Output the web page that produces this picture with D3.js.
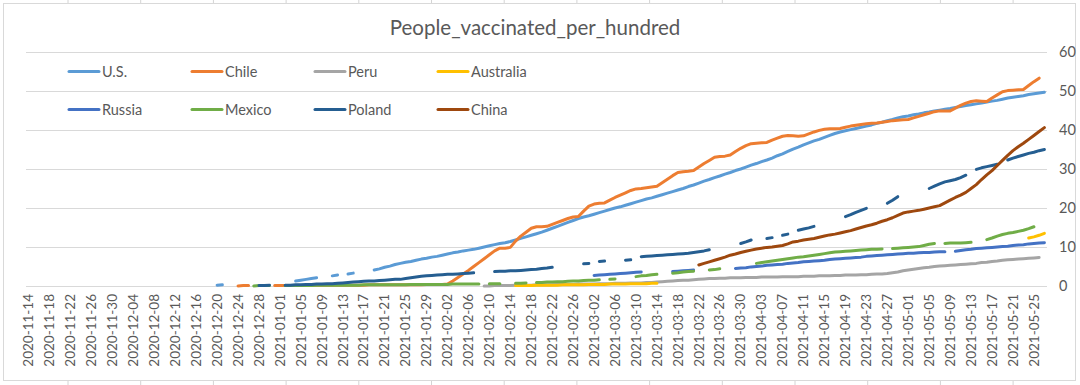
<!DOCTYPE html>
<html>
<head>
<meta charset="utf-8">
<script src="https://cdn.jsdelivr.net/npm/d3@7"></script>
<style>
  body { margin: 0; background: #fff; }
  text { font-family: Lato, "Open Sans", sans-serif; fill: #595959; }
</style>
</head>
<body>
<svg id="chart" width="1080" height="385"></svg>
<script>
// category axis: one category per day, a label every 4th day
const firstDay = "2020-11-14";
const lastDay = "2021-05-27";
const labelEvery = 4;
const yTicks = [0, 10, 20, 30, 40, 50, 60];

const seriesNames = ["U.S.", "Chile", "Peru", "Australia", "Russia", "Mexico", "Poland", "China"];
const seriesColors = ["#5B9BD5", "#ED7D31", "#A5A5A5", "#FFC000", "#4472C4", "#70AD47", "#255E91", "#9E480E"];

// each series is a list of runs: [first date of run, daily values]; a break between runs = missing days
const usRuns = [
  ["2020-12-20", [0.2, 0.3]],
  ["2021-01-04", [1.3, 1.5, 1.7, 1.9, 2.1]],
  ["2021-01-11", [2.6, 2.8]],
  ["2021-01-14", [3.1, 3.3]],
  ["2021-01-19", [4.1, 4.4, 4.8, 5.1, 5.5, 5.8, 6.1, 6.3, 6.6, 6.9,
                  7.1, 7.4, 7.6, 7.9, 8.2, 8.5, 8.7, 9.0, 9.2, 9.4,
                  9.7, 10.0, 10.3, 10.6, 10.9, 11.1, 11.4, 11.8, 12.2, 12.6,
                  13.0, 13.4, 13.8, 14.3, 14.8, 15.3, 15.8, 16.3, 16.8, 17.3,
                  17.7, 18.0, 18.4, 18.8, 19.2, 19.6, 20.0, 20.3, 20.7, 21.1,
                  21.5, 21.9, 22.3, 22.6, 23.0, 23.4, 23.8, 24.2, 24.6, 25.0,
                  25.5, 25.9, 26.4, 26.9, 27.3, 27.8, 28.2, 28.7, 29.1, 29.6,
                  30.0, 30.5, 31.0, 31.4, 31.9, 32.3, 32.8, 33.4, 33.9, 34.5,
                  35.1, 35.6, 36.2, 36.7, 37.2, 37.6, 38.1, 38.6, 39.1, 39.5,
                  39.8, 40.1, 40.4, 40.7, 41.0, 41.3, 41.7, 42.0, 42.4, 42.7,
                  43.1, 43.4, 43.6, 43.9, 44.1, 44.4, 44.6, 44.9, 45.1, 45.3,
                  45.5, 45.8, 46.0, 46.3, 46.5, 46.7, 46.9, 47.2, 47.4, 47.6,
                  47.9, 48.2, 48.4, 48.6, 48.8, 49.1, 49.3, 49.5, 49.7]]
];

const chileRuns = [
  ["2020-12-24", [0.0, 0.1, 0.1]],
  ["2020-12-31", [0.1, 0.1, 0.1, 0.1, 0.1, 0.1, 0.1, 0.2, 0.2, 0.2,
                  0.2, 0.2, 0.2, 0.2, 0.2, 0.2, 0.2, 0.2, 0.3, 0.3,
                  0.3, 0.3, 0.3, 0.3, 0.3, 0.3, 0.3, 0.3, 0.3, 0.4,
                  0.4, 0.4, 0.4, 0.5, 1.3, 2.2, 3.1, 4.0, 5.0, 6.0,
                  7.0, 8.0, 9.0, 9.7, 9.7, 9.9, 11.5, 12.8, 13.8, 14.8,
                  15.2, 15.2, 15.3, 15.8, 16.3, 16.8, 17.3, 17.7, 17.8, 19.2,
                  20.5, 21.0, 21.2, 21.3, 22.0, 22.7, 23.3, 23.9, 24.5, 24.9,
                  25.0, 25.2, 25.4, 25.6, 26.5, 27.4, 28.3, 29.1, 29.3, 29.4,
                  29.6, 30.5, 31.4, 32.2, 33.0, 33.2, 33.3, 33.6, 34.5, 35.3,
                  36.0, 36.5, 36.6, 36.7, 36.8, 37.4, 37.9, 38.4, 38.6, 38.5,
                  38.4, 38.5, 39.0, 39.5, 39.9, 40.2, 40.3, 40.3, 40.4, 40.7,
                  41.0, 41.2, 41.4, 41.6, 41.7, 41.8, 42.0, 42.2, 42.4, 42.5,
                  42.6, 42.7, 43.1, 43.5, 43.9, 44.3, 44.7, 44.9, 44.9, 44.9,
                  45.6, 46.3, 46.9, 47.3, 47.5, 47.4, 47.3, 48.2, 49.0, 49.8,
                  50.1, 50.2, 50.3, 50.4, 51.4, 52.4, 53.3]]
];

const peruRuns = [
  ["2021-02-09", [0.0, 0.0, 0.1, 0.1, 0.1, 0.1, 0.2, 0.2, 0.2, 0.2,
                  0.3, 0.3, 0.3, 0.3, 0.4, 0.4, 0.4, 0.4, 0.5, 0.5,
                  0.5, 0.5, 0.6, 0.6, 0.6, 0.7, 0.7, 0.7, 0.8, 0.8,
                  0.8, 0.9, 0.9, 1.0, 1.1, 1.2, 1.3, 1.4, 1.5, 1.5,
                  1.6, 1.7, 1.8, 1.9, 1.9, 2.0, 2.0, 2.1, 2.1, 2.1,
                  2.2, 2.2, 2.2, 2.3, 2.3, 2.3, 2.3, 2.4, 2.4, 2.4,
                  2.4, 2.5, 2.5, 2.5, 2.6, 2.6, 2.6, 2.7, 2.7, 2.8,
                  2.8, 2.8, 2.9, 2.9, 3.0, 3.1, 3.1, 3.2, 3.4, 3.6,
                  3.9, 4.1, 4.3, 4.5, 4.7, 4.8, 5.0, 5.1, 5.2, 5.3,
                  5.4, 5.5, 5.6, 5.7, 5.8, 6.0, 6.1, 6.3, 6.4, 6.6,
                  6.7, 6.8, 6.9, 7.0, 7.1, 7.2, 7.3]]
];

const australiaRuns = [
  ["2021-02-15", [0.1, 0.1, 0.1, 0.1, 0.2, 0.2, 0.2, 0.2, 0.2, 0.3,
                  0.3, 0.3, 0.3, 0.3, 0.4, 0.4, 0.4, 0.4, 0.5, 0.5,
                  0.5, 0.5, 0.6, 0.6, 0.6, 0.6, 0.7, 0.7]],
  ["2021-05-24", [12.3, 12.6, 13.0, 13.5]]
];

const russiaRuns = [
  ["2021-03-02", [2.7, 2.8, 2.9, 3.0, 3.1, 3.2, 3.3, 3.4, 3.5, 3.6]],
  ["2021-03-17", [3.7, 3.8, 3.9, 4.0, 4.1]],
  ["2021-03-29", [4.5, 4.6, 4.7, 4.9, 5.0, 5.1, 5.3, 5.4, 5.5, 5.6,
                  5.8, 5.9, 6.0, 6.2, 6.3, 6.4, 6.5, 6.6, 6.8, 6.9,
                  7.0, 7.1, 7.2, 7.3, 7.4, 7.6, 7.7, 7.8, 7.9, 8.0,
                  8.1, 8.2, 8.3, 8.4, 8.4, 8.5, 8.6, 8.6, 8.7, 8.8, 8.8]],
  ["2021-05-10", [8.9, 9.1, 9.3, 9.4, 9.6, 9.7, 9.8, 9.9, 10.0, 10.1,
                  10.2, 10.4, 10.5, 10.6, 10.8, 10.9, 11.0, 11.1]]
];

const mexicoRuns = [
  ["2020-12-27", [0.0, 0.1, 0.1, 0.1]],
  ["2021-01-02", [0.1, 0.1, 0.1, 0.1, 0.1, 0.1, 0.2, 0.2, 0.2, 0.2,
                  0.2, 0.2, 0.2, 0.2, 0.2, 0.3, 0.3, 0.3, 0.3, 0.3,
                  0.3, 0.3, 0.3, 0.3, 0.4, 0.4, 0.4, 0.4, 0.4, 0.4,
                  0.4, 0.4, 0.5, 0.5, 0.5, 0.5, 0.5, 0.5]],
  ["2021-02-10", [0.6, 0.6, 0.6]],
  ["2021-02-15", [0.7, 0.7, 0.8]],
  ["2021-02-19", [0.9, 0.9, 1.0, 1.0, 1.1, 1.1, 1.2, 1.3, 1.3, 1.4, 1.5, 1.5, 1.6]],
  ["2021-03-05", [1.7, 1.8]],
  ["2021-03-10", [2.4, 2.6, 2.7, 2.9, 3.0]],
  ["2021-03-17", [3.3, 3.4, 3.6, 3.7, 3.8]],
  ["2021-03-24", [4.1, 4.2, 4.4]],
  ["2021-04-02", [5.8, 6.0, 6.2, 6.4, 6.6, 6.8, 7.0, 7.2, 7.4, 7.5,
                  7.7, 7.9, 8.1, 8.3, 8.5, 8.7, 8.8, 8.9, 9.0, 9.1,
                  9.2, 9.3, 9.4, 9.4, 9.5]],
  ["2021-04-28", [9.6, 9.7, 9.8, 9.9, 10.0, 10.1, 10.4, 10.7, 10.9]],
  ["2021-05-08", [10.9, 11.0, 11.0, 11.0, 11.1, 11.2]],
  ["2021-05-16", [11.9, 12.3, 12.8, 13.2, 13.5, 13.7, 14.0, 14.3, 14.7, 15.2]]
];

const polandRuns = [
  ["2020-12-28", [0.1, 0.1, 0.2]],
  ["2021-01-02", [0.2, 0.2, 0.3, 0.3, 0.4, 0.4, 0.5, 0.5, 0.6, 0.6,
                  0.7, 0.8, 0.9, 1.0, 1.1, 1.2, 1.3, 1.3, 1.4, 1.5,
                  1.6, 1.7, 1.7, 1.9, 2.1, 2.3, 2.5, 2.6, 2.7, 2.8,
                  2.9, 3.0, 3.0, 3.1, 3.2, 3.3, 3.4]],
  ["2021-02-11", [3.7, 3.8, 3.8, 3.9, 3.9, 4.0, 4.1, 4.2, 4.3, 4.5, 4.6, 4.8]],
  ["2021-02-28", [5.7, 5.8]],
  ["2021-03-03", [6.3, 6.4]],
  ["2021-03-08", [6.6, 6.7]],
  ["2021-03-11", [7.5, 7.6, 7.7, 7.8, 7.9, 8.0, 8.1, 8.2, 8.3, 8.4, 8.6, 8.8, 9.0, 9.3]],
  ["2021-03-30", [10.9, 11.3, 11.8]],
  ["2021-04-04", [12.2, 12.4]],
  ["2021-04-07", [13.0, 13.3]],
  ["2021-04-10", [14.3, 14.6, 14.9, 15.3]],
  ["2021-04-19", [17.8, 18.3, 18.9, 19.4, 19.9]],
  ["2021-04-27", [21.2, 22.0, 22.9]],
  ["2021-05-05", [25.0, 25.6, 26.2, 26.7, 27.0, 27.3, 27.8, 28.4]],
  ["2021-05-14", [29.9, 30.3, 30.6, 30.9, 31.2]],
  ["2021-05-20", [32.3, 32.8, 33.2, 33.6, 34.0, 34.3, 34.7, 35.0]]
];

const chinaRuns = [
  ["2021-03-22", [5.4, 5.8, 6.2, 6.6, 7.0, 7.4, 7.9, 8.2, 8.6, 8.9,
                  9.2, 9.5, 9.7, 9.9, 10.0, 10.2, 10.4, 10.8, 11.3, 11.5,
                  11.8, 12.0, 12.2, 12.5, 12.8, 13.1, 13.3, 13.6, 13.9, 14.2,
                  14.6, 15.0, 15.4, 15.7, 16.1, 16.6, 17.0, 17.5, 18.1, 18.7,
                  19.0, 19.2, 19.4, 19.7, 20.0, 20.3, 20.6, 21.3, 22.0, 22.7,
                  23.3, 24.0, 25.0, 26.0, 27.3, 28.5, 29.6, 30.9, 32.2, 33.5,
                  34.7, 35.7, 36.6, 37.6, 38.6, 39.6, 40.6]]
];

const allRuns = [usRuns, chileRuns, peruRuns, australiaRuns, russiaRuns, mexicoRuns, polandRuns, chinaRuns];

const width = 1080, height = 385;
const plot = {left: 26, right: 1047, top: 52, bottom: 286};

const parseDay = d3.utcParse("%Y-%m-%d");
const fmtDay = d3.utcFormat("%Y-%m-%d");
const days = d3.utcDay.range(parseDay(firstDay), d3.utcDay.offset(parseDay(lastDay), 1)).map(fmtDay);

const svg = d3.select("#chart");

// sheet cell lines peeking around the chart frame
const cellX = d3.range(68, width, 72.7);
svg.selectAll(".cellTop").data(cellX).enter().append("line")
  .attr("x1", d => d).attr("x2", d => d).attr("y1", 0).attr("y2", 3)
  .attr("stroke", "#D4D4D4");
svg.selectAll(".cellBot").data(cellX).enter().append("line")
  .attr("x1", d => d).attr("x2", d => d).attr("y1", 381).attr("y2", height)
  .attr("stroke", "#D4D4D4");

svg.append("rect").attr("x", 3.5).attr("y", 3.5).attr("width", 1072).attr("height", 377)
  .attr("fill", "#fff").attr("stroke", "#D9D9D9");

const x = d3.scaleBand().domain(days).range([plot.left, plot.right]);
const y = d3.scaleLinear().domain([0, 60]).range([plot.bottom, plot.top]);
const xc = d => x(d) + x.bandwidth() / 2;

// y axis on the right with gridlines
const yAxis = svg.append("g")
  .attr("transform", `translate(${plot.right},0)`)
  .call(d3.axisRight(y).tickValues(yTicks).tickSize(-(plot.right - plot.left)).tickPadding(12).tickFormat(d3.format("d")));
yAxis.select(".domain").remove();
yAxis.selectAll("line").attr("stroke", "#D9D9D9");
yAxis.selectAll("text").style("font-size", "14.5px").style("font-family", "Lato, sans-serif").attr("fill", "#595959");

// x axis labels, rotated
const xAxis = svg.append("g")
  .attr("transform", `translate(0,${plot.bottom})`)
  .call(d3.axisBottom(x).tickValues(days.filter((d, i) => i % labelEvery === 0)).tickSize(0));
xAxis.select(".domain").remove();
xAxis.selectAll("text")
  .attr("transform", "rotate(-90)")
  .attr("x", -8).attr("y", 0).attr("dy", "0.35em")
  .style("text-anchor", "end")
  .style("font-size", "13.5px").style("font-family", "Lato, sans-serif")
  .attr("fill", "#595959");

// lines
const line = d3.line().x(d => xc(d[0])).y(d => y(d[1]));
allRuns.forEach((runs, s) => {
  runs.forEach(run => {
    const start = parseDay(run[0]);
    const pts = run[1].map((v, k) => [fmtDay(d3.utcDay.offset(start, k)), v]);
    svg.append("path")
      .datum(pts)
      .attr("d", line)
      .attr("fill", "none")
      .attr("stroke", seriesColors[s])
      .attr("stroke-width", 3)
      .attr("stroke-linecap", "round")
      .attr("stroke-linejoin", "round");
  });
});

// title
svg.append("text")
  .attr("x", 535).attr("y", 28).attr("dy", "0.35em")
  .attr("text-anchor", "middle")
  .style("font-size", "20.5px")
  .text("People_vaccinated_per_hundred");

// legend, two rows of four
const legend = svg.append("g");
seriesNames.forEach((name, i) => {
  const lx = 69 + (i % 4) * 123;
  const ly = i < 4 ? 71.5 : 109.5;
  legend.append("line")
    .attr("x1", lx).attr("x2", lx + 30).attr("y1", ly).attr("y2", ly)
    .attr("stroke", seriesColors[i]).attr("stroke-width", 3).attr("stroke-linecap", "round");
  legend.append("text")
    .attr("x", lx + 33).attr("y", ly).attr("dy", "0.35em")
    .style("font-size", "14.5px")
    .text(name);
});
</script>
</body>
</html>
